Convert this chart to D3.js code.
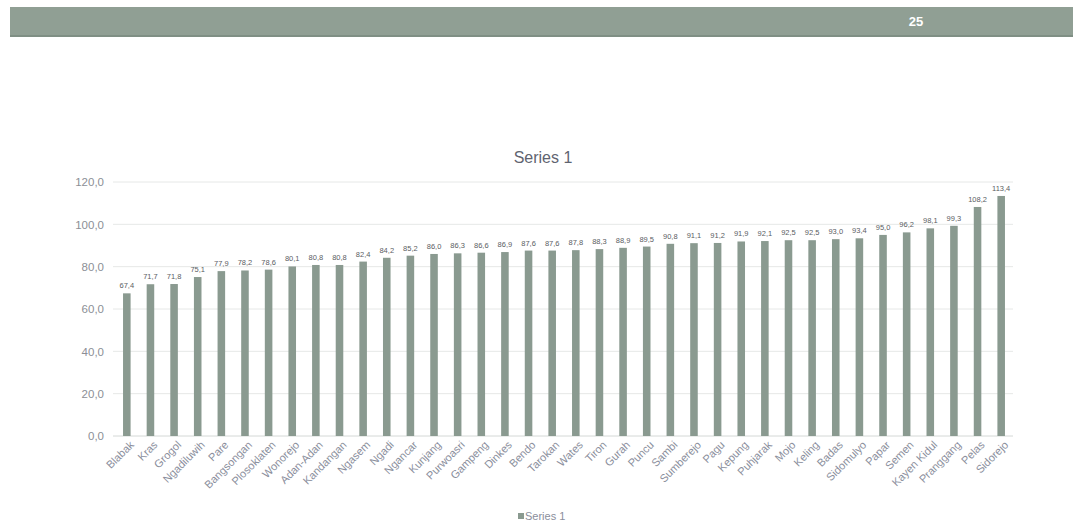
<!DOCTYPE html>
<html>
<head>
<meta charset="utf-8">
<script src="https://cdn.jsdelivr.net/npm/d3@7/dist/d3.min.js"></script>
<style>
  html, body { margin: 0; padding: 0; background: #fff; }
  svg { display: block; font-family: "Liberation Sans", Arial, sans-serif; }
</style>
</head>
<body>
<svg id="chart" width="1073" height="526"></svg>
<script>
// Health centre names (x categories)
const categories = [
  "Blabak", "Kras", "Grogol", "Ngadiluwih", "Pare", "Bangsongan", "Plosoklaten",
  "Wonorejo", "Adan-Adan", "Kandangan", "Ngasem", "Ngadi", "Ngancar", "Kunjang",
  "Purwoasri", "Gampeng", "Dinkes", "Bendo", "Tarokan", "Wates", "Tiron", "Gurah",
  "Puncu", "Sambi", "Sumberejo", "Pagu", "Kepung", "Puhjarak", "Mojo", "Keling",
  "Badas", "Sidomulyo", "Papar", "Semen", "Kayen Kidul", "Pranggang", "Pelas", "Sidorejo"
];
// Series 1 values
const series1 = [
  67.4, 71.7, 71.8, 75.1, 77.9, 78.2, 78.6, 80.1, 80.8, 80.8, 82.4, 84.2, 85.2, 86.0,
  86.3, 86.6, 86.9, 87.6, 87.6, 87.8, 88.3, 88.9, 89.5, 90.8, 91.1, 91.2, 91.9, 92.1,
  92.5, 92.5, 93.0, 93.4, 95.0, 96.2, 98.1, 99.3, 108.2, 113.4
];
// Value axis ticks
const yTicks = [0, 20, 40, 60, 80, 100, 120];
const seriesName = "Series 1";
const pageNumber = "25";

const svg = d3.select("#chart");
const fmt = v => d3.format(".1f")(v).replace(".", ",");

// Slide header band
svg.append("rect").attr("x", 10).attr("y", 7).attr("width", 1063).attr("height", 29)
  .attr("fill", "#909f94");
svg.append("rect").attr("x", 10).attr("y", 35).attr("width", 1063).attr("height", 2)
  .attr("fill", "#7f8f84");
svg.append("text").attr("x", 916).attr("y", 26).attr("text-anchor", "middle")
  .attr("fill", "#fff").attr("font-weight", "bold").attr("font-size", 13)
  .text(pageNumber);

const x = d3.scaleBand().domain(categories).range([115, 1013]).paddingInner(0.68).paddingOuter(0.34);
const y = d3.scaleLinear().domain([0, 120]).range([436, 182]);

// Gridlines
svg.append("g").selectAll("line").data(yTicks).join("line")
  .attr("x1", 113).attr("x2", 1013)
  .attr("y1", d => y(d)).attr("y2", d => y(d))
  .attr("stroke", d => d === 0 ? "#d4d8d6" : "#e6e8e7").attr("stroke-width", 1);

// Y axis labels
const yAxis = d3.axisLeft(y).tickValues(yTicks).tickFormat(fmt).tickSize(0).tickPadding(0);
const gy = svg.append("g").attr("transform", "translate(104,0)").call(yAxis);
gy.select(".domain").remove();
gy.selectAll("text").attr("fill", "#8c8f96").attr("font-size", 11.5)
  .attr("font-family", "Liberation Sans, Arial, sans-serif");

// Bars
svg.append("g").selectAll("rect").data(series1).join("rect")
  .attr("x", (d, i) => x(categories[i]))
  .attr("y", d => y(d))
  .attr("width", x.bandwidth())
  .attr("height", d => y(0) - y(d))
  .attr("fill", "#8a9a90");

// Value labels
svg.append("g").selectAll("text").data(series1).join("text")
  .attr("x", (d, i) => x(categories[i]) + x.bandwidth() / 2)
  .attr("y", d => y(d) - 5)
  .attr("text-anchor", "middle")
  .attr("font-size", 7.5)
  .attr("fill", "#5a5d63")
  .text(d => fmt(d));

// Category axis labels, rotated
const xAxis = d3.axisBottom(x).tickSize(0).tickPadding(0);
const gx = svg.append("g").attr("transform", `translate(0,${y(0) + 8})`).call(xAxis);
gx.select(".domain").remove();
gx.selectAll("text")
  .attr("font-size", 11)
  .attr("fill", "#8a8e9c")
  .attr("font-family", "Liberation Sans, Arial, sans-serif")
  .attr("text-anchor", "end")
  .attr("dy", "0.6em")
  .attr("dx", "0.4em")
  .attr("transform", "rotate(-45)");

// Title
svg.append("text").attr("x", 543).attr("y", 163).attr("text-anchor", "middle")
  .attr("font-size", 16).attr("fill", "#5f6470").text(seriesName);

// Legend
const lg = svg.append("g").attr("transform", "translate(518,520)");
lg.append("rect").attr("x", 0).attr("y", -7).attr("width", 6).attr("height", 6).attr("fill", "#8a9a90");
lg.append("text").attr("x", 7).attr("y", 0).attr("font-size", 11).attr("fill", "#8a8e9c").text(seriesName);
</script>
</body>
</html>
